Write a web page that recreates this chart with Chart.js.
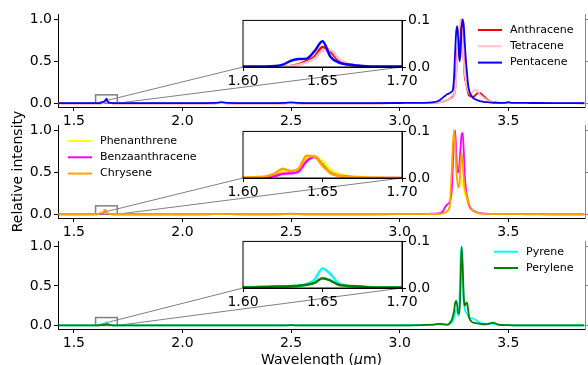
<!DOCTYPE html>
<html>
<head>
<meta charset="utf-8">
<script src="https://cdn.jsdelivr.net/npm/chart.js@4.4.1/dist/chart.umd.min.js"></script>
<style>
  body { margin: 0; background: #fff; }
  #fig { position: relative; width: 588px; height: 365px; overflow: hidden; }
  #fig canvas { position: absolute; }
</style>
</head>
<body>
<div id="fig"></div>
<script>
// Wavelength grid (um), shared by all spectra
const wavelength = [
  1.43, 1.50, 1.55, 1.59,
  1.600, 1.605, 1.610, 1.615, 1.620, 1.625, 1.630, 1.635, 1.640, 1.645, 1.650,
  1.655, 1.660, 1.665, 1.670, 1.675, 1.680, 1.685, 1.690, 1.695, 1.700,
  1.72, 1.80, 1.90, 2.00, 2.10, 2.15, 2.18, 2.21, 2.30, 2.40, 2.47, 2.50, 2.53,
  2.60, 2.70, 2.80, 2.90, 3.00, 3.10, 3.15,
  3.18, 3.20, 3.21, 3.22, 3.23, 3.24, 3.245, 3.25, 3.255, 3.26, 3.265, 3.27, 3.275,
  3.28, 3.285, 3.29, 3.295, 3.30, 3.305, 3.31, 3.315, 3.32, 3.33, 3.34, 3.35, 3.36,
  3.37, 3.38, 3.40, 3.42, 3.43, 3.45, 3.48, 3.50, 3.52, 3.60, 3.70, 3.85
];

// top panel
const anthracene = [
  0, 0, 0, 0,
  0, 0, 0, 0, 0, 0, 0.002, 0.006, 0.013, 0.022, 0.043, 0.033, 0.014, 0.006, 0.003, 0.001, 0, 0, 0, 0, 0,
  0, 0, 0, 0, 0, 0, 0.002, 0, 0, 0, 0, 0.003, 0, 0, 0, 0, 0, 0.001, 0.002, 0.004,
  0.01, 0.02, 0.03, 0.04, 0.05, 0.07, 0.08, 0.1, 0.15, 0.35, 0.6, 0.75, 0.55, 0.8, 1.0, 0.85, 0.5, 0.3, 0.25,
  0.18, 0.12, 0.09, 0.08, 0.08, 0.1, 0.12, 0.12, 0.1, 0.05, 0.02, 0.015, 0.008, 0.004, 0.004, 0.003, 0.002, 0.001, 0
];
const tetracene = [
  0, 0, 0, 0,
  0, 0, 0, 0, 0, 0, 0.002, 0.005, 0.010, 0.018, 0.035, 0.036, 0.018, 0.008, 0.004, 0.002, 0.001, 0, 0, 0, 0,
  0, 0, 0, 0, 0, 0, 0.001, 0, 0, 0, 0, 0.002, 0, 0, 0, 0, 0, 0.001, 0.002, 0.004,
  0.01, 0.02, 0.03, 0.04, 0.05, 0.06, 0.07, 0.09, 0.15, 0.3, 0.55, 0.8, 0.9, 1.0, 0.95, 0.75, 0.5, 0.35, 0.25,
  0.2, 0.15, 0.12, 0.12, 0.15, 0.16, 0.14, 0.1, 0.08, 0.04, 0.02, 0.015, 0.01, 0.006, 0.005, 0.003, 0.002, 0.001, 0
];
const pentacene = [
  0.002, 0.002, 0.002, 0.002,
  0.001, 0.001, 0.001, 0.001, 0.002, 0.005, 0.013, 0.017, 0.018, 0.034, 0.055, 0.022, 0.010, 0.006, 0.004, 0.002, 0.001, 0.001, 0.001, 0.001, 0.001,
  0.001, 0.001, 0.001, 0.001, 0.002, 0.004, 0.012, 0.004, 0.002, 0.002, 0.004, 0.010, 0.004, 0.002, 0.002, 0.002, 0.002, 0.003, 0.005, 0.01,
  0.03, 0.07, 0.09, 0.11, 0.12, 0.14, 0.16, 0.3, 0.6, 0.85, 0.92, 0.75, 0.5, 0.6, 0.9, 1.0, 0.92, 0.7, 0.5,
  0.35, 0.22, 0.15, 0.09, 0.06, 0.045, 0.035, 0.025, 0.02, 0.012, 0.008, 0.006, 0.005, 0.005, 0.012, 0.005, 0.003, 0.002, 0.002
];

// middle panel
const phenanthrene = [
  0, 0, 0, 0,
  0.001, 0.001, 0.002, 0.003, 0.006, 0.015, 0.013, 0.018, 0.042, 0.048, 0.035, 0.018, 0.009, 0.005, 0.003, 0.002, 0.001, 0.001, 0, 0, 0,
  0, 0, 0, 0, 0.001, 0.003, 0.006, 0.002, 0.001, 0.001, 0.002, 0.004, 0.002, 0.001, 0.001, 0.001, 0.001, 0.002, 0.003, 0.005,
  0.005, 0.01, 0.02, 0.04, 0.08, 0.3, 0.7, 0.98, 0.95, 0.75, 0.6, 0.55, 0.5, 0.45, 0.4, 0.35, 0.3, 0.25, 0.2,
  0.16, 0.13, 0.1, 0.06, 0.04, 0.025, 0.015, 0.01, 0.008, 0.005, 0.003, 0.003, 0.002, 0.002, 0.001, 0.001, 0, 0, 0
];
const benzaanthracene = [
  0, 0, 0, 0,
  0, 0, 0.001, 0.002, 0.004, 0.009, 0.010, 0.014, 0.036, 0.045, 0.028, 0.011, 0.005, 0.003, 0.001, 0, 0, 0, 0, 0, 0,
  0, 0, 0, 0, 0, 0.002, 0.004, 0.001, 0, 0, 0.003, 0.008, 0.003, 0, 0, 0, 0, 0.001, 0.003, 0.008,
  0.01, 0.04, 0.09, 0.12, 0.15, 0.3, 0.6, 0.9, 1.0, 0.75, 0.5, 0.5, 0.6, 0.8, 0.95, 0.97, 0.75, 0.45, 0.3,
  0.22, 0.15, 0.1, 0.06, 0.04, 0.03, 0.02, 0.015, 0.01, 0.006, 0.004, 0.003, 0.002, 0.002, 0.002, 0.001, 0.001, 0, 0
];
const chrysene = [
  0, 0, 0, 0,
  0.001, 0.001, 0.002, 0.004, 0.010, 0.020, 0.015, 0.020, 0.048, 0.046, 0.026, 0.011, 0.005, 0.003, 0.002, 0.001, 0, 0, 0, 0, 0,
  0, 0, 0, 0, 0, 0.001, 0.003, 0.001, 0, 0, 0.001, 0.003, 0.001, 0, 0, 0, 0, 0.001, 0.002, 0.004,
  0.005, 0.01, 0.02, 0.04, 0.1, 0.55, 0.85, 1.0, 0.85, 0.55, 0.4, 0.32, 0.35, 0.6, 0.73, 0.6, 0.4, 0.3, 0.25,
  0.2, 0.17, 0.12, 0.07, 0.04, 0.025, 0.015, 0.01, 0.007, 0.004, 0.003, 0.002, 0.002, 0.001, 0.001, 0.001, 0, 0, 0
];

// bottom panel
const pyrene = [
  0.001, 0.001, 0.001, 0.002,
  0.002, 0.002, 0.002, 0.003, 0.003, 0.004, 0.004, 0.005, 0.008, 0.018, 0.042, 0.030, 0.010, 0.005, 0.003, 0.002, 0.002, 0.001, 0.001, 0.001, 0.001,
  0.001, 0.001, 0.001, 0.001, 0.001, 0.001, 0.001, 0.001, 0.001, 0.001, 0.002, 0.005, 0.002, 0.001, 0.001, 0.001, 0.001, 0.002, 0.004, 0.008,
  0.015, 0.015, 0.012, 0.01, 0.02, 0.04, 0.06, 0.1, 0.15, 0.2, 0.18, 0.12, 0.3, 0.85, 1.0, 0.6, 0.3, 0.2, 0.17,
  0.15, 0.12, 0.1, 0.09, 0.085, 0.07, 0.05, 0.035, 0.025, 0.02, 0.025, 0.02, 0.01, 0.005, 0.003, 0.002, 0.001, 0.001, 0
];
const perylene = [
  0, 0, 0, 0.001,
  0.001, 0.001, 0.002, 0.002, 0.003, 0.003, 0.004, 0.005, 0.007, 0.011, 0.021, 0.016, 0.007, 0.005, 0.004, 0.003, 0.001, 0.001, 0.001, 0.001, 0.001,
  0, 0, 0, 0, 0, 0, 0, 0, 0, 0, 0.001, 0.003, 0.001, 0, 0, 0, 0, 0.001, 0.003, 0.01,
  0.02, 0.015, 0.01, 0.01, 0.03, 0.07, 0.12, 0.18, 0.28, 0.31, 0.25, 0.15, 0.15, 0.5, 1.0, 0.75, 0.35, 0.25, 0.28,
  0.29, 0.2, 0.1, 0.05, 0.035, 0.03, 0.025, 0.02, 0.015, 0.015, 0.03, 0.035, 0.015, 0.005, 0.003, 0.002, 0.001, 0.001, 0
];

// axis ticks
const xTicks = [1.5, 2.0, 2.5, 3.0, 3.5];
const yTicks = [0, 0.5, 1.0];
const insetXTicks = [1.60, 1.65, 1.70];
const insetYTicks = [0, 0.1];
const zoomX = [1.6, 1.7];
const zoomY = [0, 0.1];

const X_MIN = 1.427, X_MAX = 3.853;
const Y_MIN = -0.045, Y_MAX = 1.065;
const FONT = 'DejaVu Sans';
const AXES_H = 93;

Chart.defaults.font.family = FONT;
Chart.defaults.color = '#000';

const panels = [
  { top: 0, padTop: 14, xAxisH: 18, insetTop: 20,
    names: ['Anthracene', 'Tetracene', 'Pentacene'],
    series: [anthracene, tetracene, pentacene],
    colors: ['#ff0000', '#ffc0cb', '#0000ff'],
    legend: { x: 478, y: 30 } },
  { top: 105, padTop: 20, xAxisH: 18, insetTop: 131, ylabel: true,
    names: ['Phenanthrene', 'Benzaanthracene', 'Chrysene'],
    series: [phenanthrene, benzaanthracene, chrysene],
    colors: ['#ffff00', '#ff00ff', '#ffa500'],
    legend: { x: 68, y: 141 } },
  { top: 231, padTop: 5, xAxisH: 36, insetTop: 241, xlabel: true,
    names: ['Pyrene', 'Perylene'],
    series: [pyrene, perylene],
    colors: ['#00ffff', '#008000'],
    legend: { x: 494, y: 251.7 } }
];

const fig = document.getElementById('fig');
function addCanvas(left, top, w, h) {
  const c = document.createElement('canvas');
  c.width = w; c.height = h;
  c.style.left = left + 'px'; c.style.top = top + 'px';
  c.style.width = w + 'px'; c.style.height = h + 'px';
  fig.appendChild(c);
  return c;
}

function makeDatasets(p, width) {
  return p.series.map((vals, i) => ({
    label: p.names[i],
    data: wavelength.map((x, k) => ({ x: x, y: vals[k] })),
    borderColor: p.colors[i],
    borderWidth: width,
    pointRadius: 0,
    fill: false,
    cubicInterpolationMode: 'monotone',
    order: p.series.length - i
  }));
}

// canvases: mains first, insets on top
const INSET = { left: 213, width: 245, height: 83, padLeft: 30, padTop: 10, area: 159, areaH: 47 };
const mainCanvases = panels.map(p => addCanvas(0, p.top, 588, p.padTop + AXES_H + p.xAxisH));
const insetCanvases = panels.map(p => addCanvas(INSET.left, p.insetTop - INSET.padTop, INSET.width, INSET.height));

const insetFrame = {
  id: 'insetFrame',
  beforeDraw(chart) {
    const a = chart.chartArea, ctx = chart.ctx;
    ctx.save();
    ctx.fillStyle = '#fff';
    ctx.fillRect(a.left, a.top, a.right - a.left, a.bottom - a.top);
    ctx.restore();
  },
  afterDraw(chart) {
    const a = chart.chartArea, ctx = chart.ctx;
    ctx.save();
    ctx.strokeStyle = '#000';
    ctx.lineWidth = 1;
    ctx.strokeRect(a.left, a.top, a.right - a.left, a.bottom - a.top);
    ctx.restore();
  }
};

const insets = panels.map((p, n) => new Chart(insetCanvases[n], {
  type: 'line',
  data: { datasets: makeDatasets(p, 2.5) },
  options: {
    responsive: false, animation: false, events: [],
    layout: { padding: { left: INSET.padLeft, top: INSET.padTop, right: 0, bottom: 0 }, autoPadding: false },
    plugins: { legend: { display: false }, tooltip: { enabled: false } },
    scales: {
      x: {
        type: 'linear', min: zoomX[0], max: zoomX[1],
        afterBuildTicks: s => { s.ticks = insetXTicks.map(v => ({ value: v })); },
        afterFit: s => { s.height = INSET.height - INSET.padTop - INSET.areaH; },
        grid: { drawOnChartArea: false, tickLength: 4, color: '#000' },
        border: { color: '#000' },
        ticks: { padding: 2, font: { size: 14 }, maxRotation: 0, autoSkip: false, callback: v => v.toFixed(2) }
      },
      y: {
        position: 'right', min: zoomY[0], max: zoomY[1],
        afterBuildTicks: s => { s.ticks = insetYTicks.map(v => ({ value: v })); },
        afterFit: s => { s.width = INSET.width - INSET.padLeft - INSET.area; },
        grid: { drawOnChartArea: false, tickLength: 4, color: '#000' },
        border: { color: '#000' },
        ticks: { padding: 2, font: { size: 14 }, callback: v => v.toFixed(1) }
      }
    }
  },
  plugins: [insetFrame]
}));

panels.forEach((p, n) => {
  const inset = insets[n];
  const zoomMark = {
    id: 'zoomMark',
    beforeDatasetsDraw(chart) {
      const xs = chart.scales.x, ys = chart.scales.y, ctx = chart.ctx;
      const x0 = xs.getPixelForValue(zoomX[0]), x1 = xs.getPixelForValue(zoomX[1]);
      const y0 = ys.getPixelForValue(zoomY[0]), y1 = ys.getPixelForValue(zoomY[1]);
      const ia = inset.chartArea;
      const ox = INSET.left, oy = p.insetTop - INSET.padTop - p.top;
      ctx.save();
      ctx.strokeStyle = '#808080';
      ctx.lineWidth = 1.5;
      ctx.strokeRect(x0, y1, x1 - x0, y0 - y1);
      ctx.lineWidth = 1;
      ctx.beginPath();
      ctx.moveTo(x0, y0); ctx.lineTo(ia.left + ox, ia.bottom + oy);
      ctx.moveTo(x1, y0); ctx.lineTo(ia.right + ox, ia.bottom + oy);
      ctx.stroke();
      ctx.restore();
    },
    afterDraw(chart) {
      const ctx = chart.ctx;
      ctx.save();
      ctx.font = '11px "' + FONT + '"';
      ctx.textBaseline = 'middle';
      p.names.forEach((name, i) => {
        const y = p.legend.y - p.top + i * 16.3;
        ctx.strokeStyle = p.colors[i];
        ctx.lineWidth = 2;
        ctx.beginPath();
        ctx.moveTo(p.legend.x, y); ctx.lineTo(p.legend.x + 24, y);
        ctx.stroke();
        ctx.fillStyle = '#000';
        ctx.fillText(name, p.legend.x + 32, y);
      });
      if (p.xlabel) {
        const a = chart.chartArea;
        const parts = [['Wavelength (', ''], ['\u03bc', 'italic '], ['m)', '']];
        let total = 0;
        parts.forEach(pt => { ctx.font = pt[1] + '14px "' + FONT + '"'; total += ctx.measureText(pt[0]).width; });
        let x = (a.left + a.right) / 2 - total / 2;
        ctx.textBaseline = 'alphabetic';
        parts.forEach(pt => {
          ctx.font = pt[1] + '14px "' + FONT + '"';
          ctx.fillText(pt[0], x, 363.5 - p.top);
          x += ctx.measureText(pt[0]).width;
        });
      }
      ctx.restore();
    }
  };

  new Chart(mainCanvases[n], {
    type: 'line',
    data: { datasets: makeDatasets(p, 1.8) },
    options: {
      responsive: false, animation: false, events: [],
      layout: { padding: { left: 0, top: p.padTop, right: 0, bottom: 0 }, autoPadding: false },
      plugins: { legend: { display: false }, tooltip: { enabled: false } },
      scales: {
        x: {
          type: 'linear', min: X_MIN, max: X_MAX,
          afterBuildTicks: s => { s.ticks = xTicks.map(v => ({ value: v })); },
          afterFit: s => { s.height = p.xAxisH; },
          grid: { drawOnChartArea: false, tickLength: 4, color: '#000' },
          border: { color: '#000' },
          ticks: { padding: 2, font: { size: 14 }, maxRotation: 0, autoSkip: false, callback: v => v.toFixed(1) }
        },
        y: {
          min: Y_MIN, max: Y_MAX,
          afterBuildTicks: s => { s.ticks = yTicks.map(v => ({ value: v })); },
          afterFit: s => { s.width = 58; },
          grid: { drawOnChartArea: false, tickLength: 4, color: '#000' },
          border: { color: '#000' },
          ticks: { padding: 2, font: { size: 14 }, callback: v => v.toFixed(1) },
          title: { display: !!p.ylabel, text: 'Relative intensity', font: { size: 14 }, padding: { top: 10, bottom: 0 } }
        },
        yR: {
          position: 'right', min: Y_MIN, max: Y_MAX,
          afterBuildTicks: s => { s.ticks = yTicks.map(v => ({ value: v })); },
          afterFit: s => { s.width = 3; },
          grid: { drawOnChartArea: false, tickLength: 3, color: '#888' },
          border: { color: '#888' },
          ticks: { display: false }
        }
      }
    },
    plugins: [zoomMark]
  });
});
</script>
</body>
</html>
